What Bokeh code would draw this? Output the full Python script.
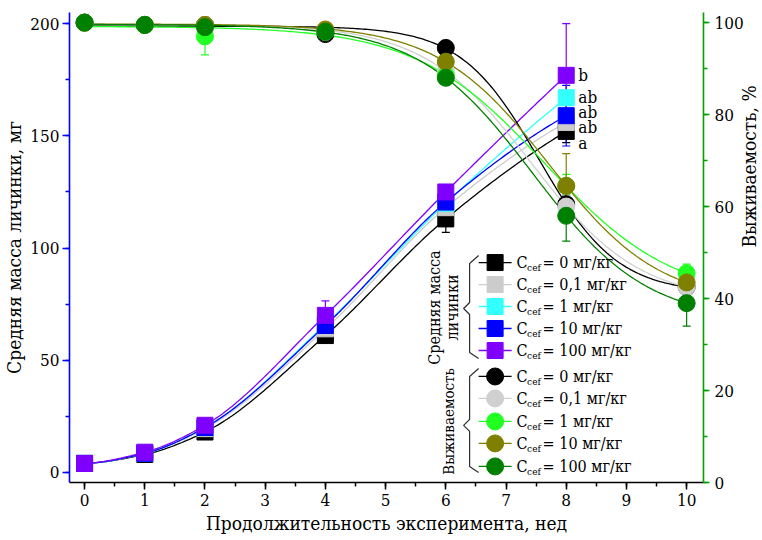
import numpy as np
from bokeh.plotting import figure
from bokeh.models import Range1d, LinearAxis, SingleIntervalTicker, Whisker, ColumnDataSource, TeeHead
from bokeh.core.properties import value
from bokeh.embed import file_html
from bokeh.resources import INLINE

# ---------------- data ----------------
mass_weeks = [0, 1, 2, 4, 6, 8]
surv_weeks = [0, 1, 2, 4, 6, 8, 10]
dose_labels = ["0", "0,1", "1", "10", "100"]

mass_c0 = [4.0, 8.0, 18.0, 61.0, 113.0, 152.0]
mass_c01 = [4.0, 8.5, 19.5, 64.0, 118.0, 156.0]
mass_c1 = [4.0, 8.5, 20.0, 66.0, 120.0, 167.0]
mass_c10 = [4.0, 8.5, 20.0, 65.5, 120.5, 159.0]
mass_c100 = [4.0, 9.0, 21.0, 70.0, 125.0, 177.0]

mass_err_c0 = [0.5, 1.0, 2.5, 2.0, 6.0, 5.0]
mass_err_c01 = [0.5, 1.0, 1.5, 2.5, 3.0, 5.0]
mass_err_c1 = [0.5, 1.0, 1.5, 2.5, 3.0, 8.0]
mass_err_c10 = [0.5, 1.0, 1.5, 3.0, 3.0, 13.5]
mass_err_c100 = [0.5, 1.0, 1.5, 6.5, 3.0, 23.0]

surv_c0 = [100.0, 99.5, 99.5, 97.5, 94.5, 60.5, 42.5]
surv_c01 = [100.0, 99.5, 99.5, 98.0, 89.5, 60.0, 42.5]
surv_c1 = [100.0, 99.5, 97.0, 98.0, 88.5, 64.5, 45.5]
surv_c10 = [100.0, 99.5, 99.5, 98.5, 91.5, 64.5, 43.5]
surv_c100 = [100.0, 99.5, 99.0, 98.0, 88.0, 58.0, 39.0]

surv_err_c0 = [0.0, 0.5, 0.5, 0.5, 1.5, 2.0, 2.0]
surv_err_c01 = [0.0, 0.5, 0.5, 0.5, 1.5, 2.5, 2.0]
surv_err_c1 = [0.0, 0.5, 4.0, 0.5, 1.5, 2.5, 2.0]
surv_err_c10 = [0.0, 1.0, 0.5, 0.5, 1.5, 7.0, 3.0]
surv_err_c100 = [0.0, 0.5, 0.5, 0.5, 1.5, 5.5, 5.0]

sig_letters = ["b", "ab", "ab", "ab", "a"]
sig_y = [177.0, 167.5, 160.5, 154.0, 147.0]

mass_series = [mass_c0, mass_c01, mass_c1, mass_c10, mass_c100]
mass_errs = [mass_err_c0, mass_err_c01, mass_err_c1, mass_err_c10, mass_err_c100]
surv_series = [surv_c0, surv_c01, surv_c1, surv_c10, surv_c100]
surv_errs = [surv_err_c0, surv_err_c01, surv_err_c1, surv_err_c10, surv_err_c100]

mass_colors = ["#000000", "#cccccc", "#33ffff", "#0000ff", "#8000ff"]
surv_colors = ["#000000", "#d0d0d0", "#22ff22", "#808000", "#008000"]

FONT_NAME = "DejaVu Serif Condensed"
FONT = value(FONT_NAME)


# ---------------- smoothing helpers ----------------
def pchip(x, y, xs):
    x = np.asarray(x, float)
    y = np.asarray(y, float)
    h = np.diff(x)
    d = np.diff(y) / h
    n = len(x)
    m = np.zeros(n)
    for k in range(1, n - 1):
        if d[k - 1] * d[k] > 0:
            w1 = 2 * h[k] + h[k - 1]
            w2 = h[k] + 2 * h[k - 1]
            m[k] = (w1 + w2) / (w1 / d[k - 1] + w2 / d[k])

    def endslope(h0, h1, d0, d1):
        s = ((2 * h0 + h1) * d0 - h0 * d1) / (h0 + h1)
        if np.sign(s) != np.sign(d0):
            s = 0.0
        elif np.sign(d0) != np.sign(d1) and abs(s) > abs(3 * d0):
            s = 3 * d0
        return s

    m[0] = endslope(h[0], h[1], d[0], d[1])
    m[-1] = endslope(h[-1], h[-2], d[-1], d[-2])
    idx = np.clip(np.searchsorted(x, xs, side="right") - 1, 0, n - 2)
    t = (xs - x[idx]) / h[idx]
    h00 = 2 * t**3 - 3 * t**2 + 1
    h10 = t**3 - 2 * t**2 + t
    h01 = -2 * t**3 + 3 * t**2
    h11 = t**3 - t**2
    return h00 * y[idx] + h10 * h[idx] * m[idx] + h01 * y[idx + 1] + h11 * h[idx] * m[idx + 1]


def boltz(p, x):
    a1, a2, x0, dx = p
    return a2 + (a1 - a2) / (1 + np.exp((x - x0) / dx))


def fit_boltz(x, y, p0):
    x = np.asarray(x, float)
    y = np.asarray(y, float)
    p = np.array(p0, float)
    lam = 1e-2
    for _ in range(400):
        r = y - boltz(p, x)
        J = np.empty((len(x), 4))
        for j in range(4):
            dp = np.zeros(4)
            dp[j] = 1e-6 * max(1.0, abs(p[j]))
            J[:, j] = (boltz(p + dp, x) - boltz(p - dp, x)) / (2 * dp[j])
        A = J.T @ J
        g = J.T @ r
        try:
            step = np.linalg.solve(A + lam * np.diag(np.diag(A) + 1e-9), g)
        except Exception:
            break
        pn = p + step
        if pn[3] > 0.05 and np.sum((y - boltz(pn, x)) ** 2) < np.sum(r**2):
            p = pn
            lam *= 0.3
        else:
            lam *= 10
    return p


# ---------------- figure ----------------
p = figure(frame_width=634, frame_height=470, output_backend="svg", toolbar_location=None,
           x_range=Range1d(-0.25, 10.28), y_range=Range1d(-4.5, 205.0),
           min_border_left=65, min_border_right=0, min_border_top=12, min_border_bottom=0)
p.extra_y_ranges = {"surv": Range1d(0, 102.2)}
p.outline_line_color = None
p.xgrid.visible = False
p.ygrid.visible = False
p.background_fill_color = "white"

p.xaxis.ticker = SingleIntervalTicker(interval=1, num_minor_ticks=2)
p.yaxis.ticker = SingleIntervalTicker(interval=50, num_minor_ticks=2)
p.xaxis.axis_label = "Продолжительность эксперимента, нед"
p.yaxis.axis_label = "Средняя масса личинки, мг"

right = LinearAxis(y_range_name="surv", ticker=SingleIntervalTicker(interval=20, num_minor_ticks=2),
                   axis_label="Выживаемость, %")
if "axis_label_orientation" in right.properties():
    right.axis_label_orientation = np.pi / 2
p.add_layout(right, "right")

for ax, col in [(p.xaxis[0], "#000000"), (p.yaxis[0], "#0000ff"), (right, "#00a000")]:
    ax.axis_line_color = col
    ax.axis_line_width = 1.6
    ax.major_tick_line_color = col
    ax.minor_tick_line_color = col
    ax.major_tick_line_width = 1.5
    ax.minor_tick_line_width = 1.5
    ax.major_tick_in = 0
    ax.major_tick_out = 7
    ax.minor_tick_in = 0
    ax.minor_tick_out = 4
    ax.major_label_text_font = FONT_NAME
    ax.major_label_text_font_size = "17px"
    ax.major_label_text_color = "#000000"
    ax.major_label_standoff = 3
    ax.axis_label_text_font = FONT_NAME
    ax.axis_label_text_font_size = "19px"
    ax.axis_label_text_font_style = "normal"
    ax.axis_label_text_color = "#000000"
    ax.axis_label_standoff = 2
p.xaxis.major_label_standoff = 4
p.xaxis.axis_label_standoff = 3
right.major_tick_out = 6
right.major_label_standoff = 5
right.axis_label_standoff = 2

# curves
xs_m = np.linspace(0, 8, 200)
for ys, c in zip(mass_series, mass_colors):
    p.line(xs_m, pchip(mass_weeks, ys, xs_m), line_color=c, line_width=1.3)

xs_s = np.linspace(0, 10, 250)
for ys, c in zip(surv_series, surv_colors):
    prm = fit_boltz(surv_weeks, ys, [100.0, 30.0, 8.0, 1.2])
    curve = boltz(prm, xs_s)
    if not np.all(np.isfinite(curve)):
        curve = pchip(surv_weeks, ys, xs_s)
    p.line(xs_s, curve, line_color=c, line_width=1.3, y_range_name="surv")

# markers
for ys, c in zip(mass_series, mass_colors):
    p.scatter(mass_weeks, ys, marker="square", size=16, fill_color=c, line_color=c)
for ys, c in zip(surv_series, surv_colors):
    p.scatter(surv_weeks, ys, marker="circle", size=17, fill_color=c, line_color=c, y_range_name="surv")

# error bars
for ys, es, c in zip(mass_series, mass_errs, mass_colors):
    src = ColumnDataSource(dict(x=mass_weeks, up=[a + b for a, b in zip(ys, es)],
                                lo=[a - b for a, b in zip(ys, es)]))
    p.add_layout(Whisker(source=src, base="x", upper="up", lower="lo", line_color=c, line_width=1.2,
                         upper_head=TeeHead(size=8, line_color=c, line_width=1.2),
                         lower_head=TeeHead(size=8, line_color=c, line_width=1.2)))
for ys, es, c in zip(surv_series, surv_errs, surv_colors):
    src = ColumnDataSource(dict(x=surv_weeks, up=[a + b for a, b in zip(ys, es)],
                                lo=[a - b for a, b in zip(ys, es)]))
    p.add_layout(Whisker(source=src, base="x", upper="up", lower="lo", line_color=c, line_width=1.2,
                         y_range_name="surv",
                         upper_head=TeeHead(size=8, line_color=c, line_width=1.2),
                         lower_head=TeeHead(size=8, line_color=c, line_width=1.2)))

# significance letters
p.text(x=[mass_weeks[-1] + 0.2] * len(sig_letters), y=sig_y, text=sig_letters,
       text_font=FONT, text_font_size="17px", text_baseline="middle", text_align="left",
       text_color="#000000")


# ---------------- legend (drawn by hand) ----------------
def xd(px):
    return (px - 88.0) / 60.2


def yd(py):
    return (472.0 - py) / 2.245


rows_mass = [262, 284, 306, 328, 350]
rows_surv = [376, 398, 421, 443, 466]
lx0, lx1, lxm = xd(482), xd(515), xd(498.5)
for i, lab in enumerate(dose_labels):
    for rows, cols, mk, sz in [(rows_mass, mass_colors, "square", 16), (rows_surv, surv_colors, "circle", 17)]:
        yy = yd(rows[i])
        c = cols[i]
        p.line([lx0, lx1], [yy, yy], line_color=c, line_width=1.3)
        p.scatter([lxm], [yy], marker=mk, size=sz, fill_color=c, line_color=c)
        p.text(x=[xd(520)], y=[yy], text=["C"], text_font=FONT, text_font_size="16px",
               text_baseline="middle", text_align="left", text_color="#000000")
        p.text(x=[xd(530.5)], y=[yd(rows[i] + 5)], text=["cef"], text_font=FONT, text_font_size="10px",
               text_baseline="middle", text_align="left", text_color="#000000")
        p.text(x=[xd(546)], y=[yy], text=["= " + lab + " мг/кг"], text_font=FONT, text_font_size="16px",
               text_baseline="middle", text_align="left", text_color="#000000")

# braces
brace_col = "#303030"
for top, mid, bot in [(255, 308, 358), (368, 425, 472)]:
    bx = [xd(482), xd(473), xd(473), xd(467), xd(473), xd(473), xd(482)]
    by = [yd(top), yd(top + 8), yd(mid - 6), yd(mid), yd(mid + 6), yd(bot - 6), yd(bot)]
    p.line(bx, by, line_color=brace_col, line_width=1.2)

p.text(x=[xd(438)], y=[yd(307)], text=["Средняя масса"], angle=np.pi / 2, text_font=FONT,
       text_font_size="16px", text_align="center", text_baseline="middle", text_color="#000000")
p.text(x=[xd(456)], y=[yd(307)], text=["личинки"], angle=np.pi / 2, text_font=FONT,
       text_font_size="16px", text_align="center", text_baseline="middle", text_color="#000000")
p.text(x=[xd(452)], y=[yd(421)], text=["Выживаемость"], angle=np.pi / 2, text_font=FONT,
       text_font_size="15px", text_align="center", text_baseline="middle", text_color="#000000")

open("out.html", "w").write(file_html(p, INLINE))
